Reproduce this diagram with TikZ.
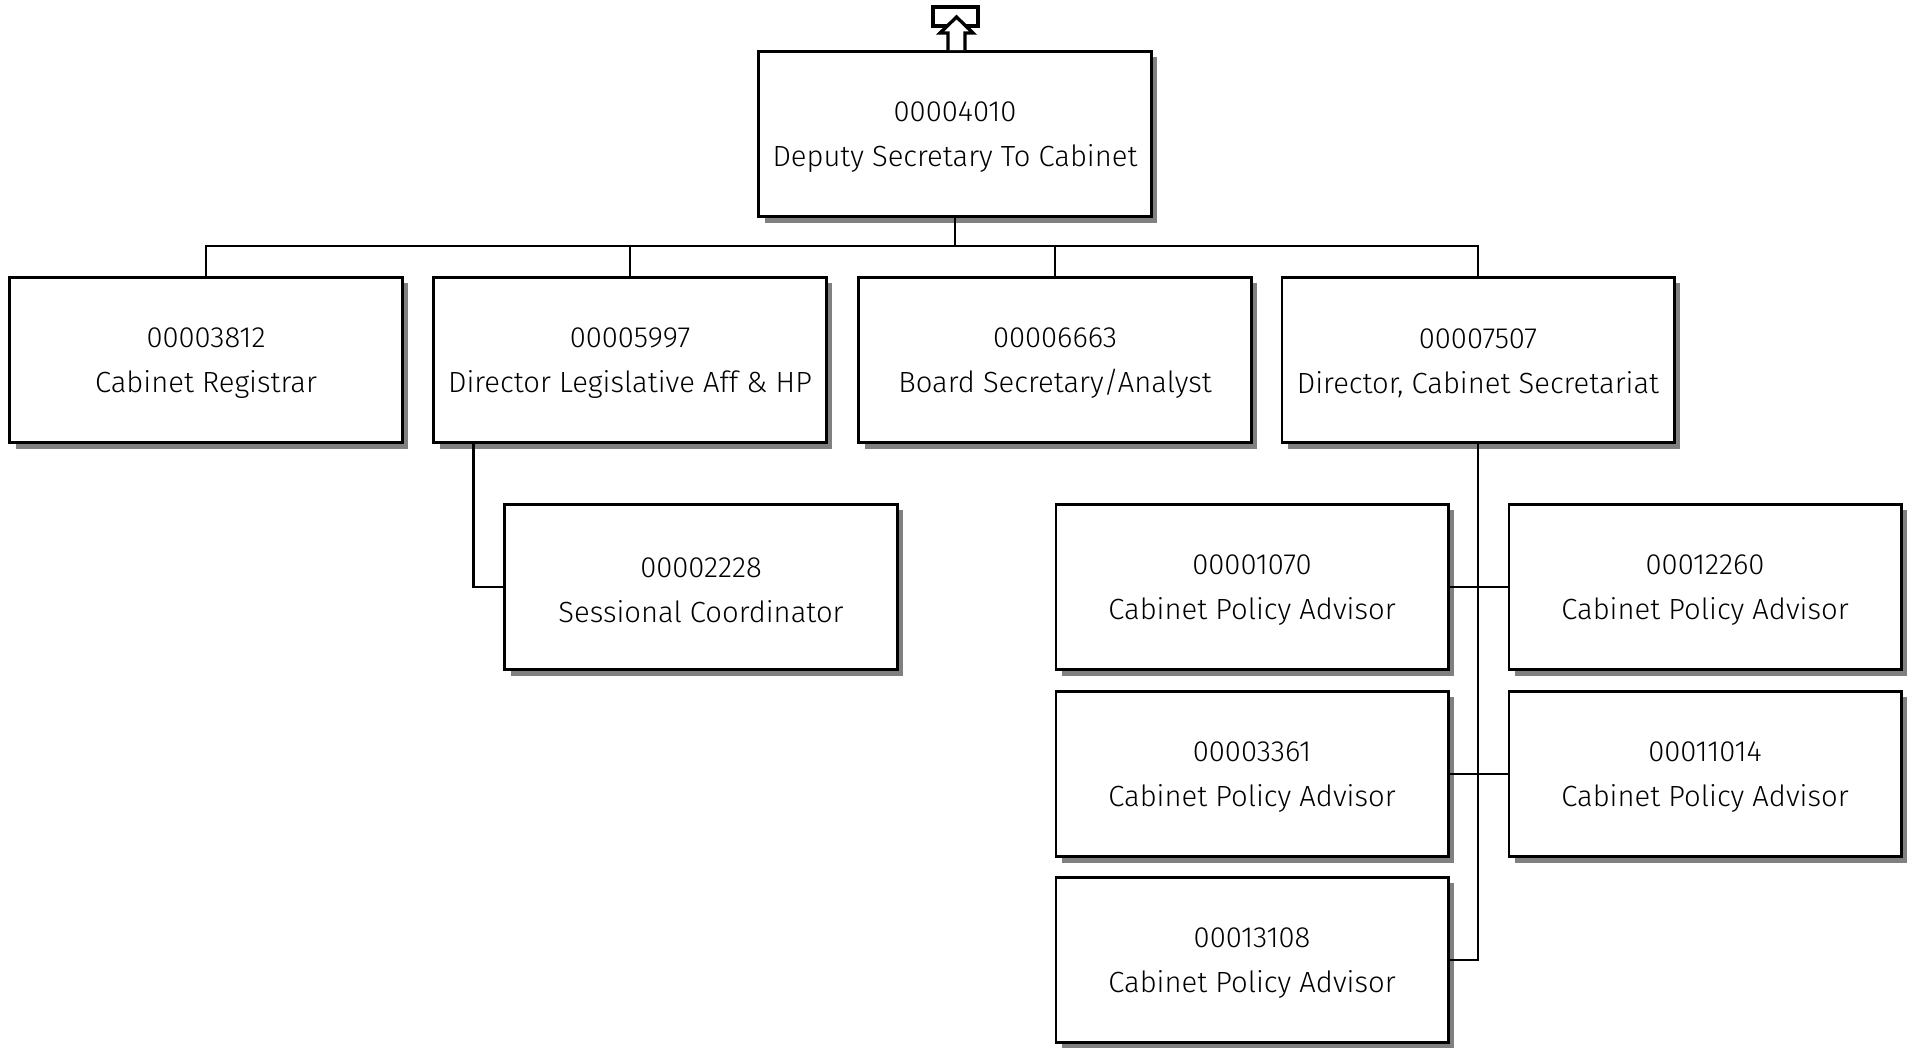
\documentclass[tikz,border=0pt]{standalone}
\usepackage{fontspec}
\setmainfont{Fira Sans}[UprightFont={* Light}]
\usepackage{tikz}
\usetikzlibrary{shadows}
\newcommand{\postlbl}[2]{\rule{0pt}{7.5pt}#1\\#2}
\tikzset{post/.style={draw, fill=white, line width=0.8pt, minimum width=3.92cm, minimum height=1.65cm,
		align=center, font=\fontsize{8.3}{12.9}\selectfont,
		drop shadow={shadow xshift=0.06cm, shadow yshift=-0.06cm, fill=black!50, opacity=1}},
	link/.style={line width=0.6pt}}

\begin{document}
\begin{tikzpicture}[x=0.01cm, y=-0.01cm]
	\useasboundingbox (0,0) rectangle (1913,1047);
	\node[post] (top) at (955,134) {\postlbl{00004010}{Deputy Secretary To Cabinet}};
	\node[post] (reg) at (206,360) {\postlbl{00003812}{Cabinet Registrar}};
	\node[post] (leg) at (630,360) {\postlbl{00005997}{Director Legislative Aff \& HP}};
	\node[post] (brd) at (1055,360) {\postlbl{00006663}{Board Secretary/Analyst}};
	\node[post] (dir) at (1478,360) {\postlbl{00007507}{Director, Cabinet Secretariat}};
	\node[post] (ses) at (701,587) {\postlbl{00002228}{Sessional Coordinator}};
	\node[post] (pa1) at (1252,587) {\postlbl{00001070}{Cabinet Policy Advisor}};
	\node[post] (pb1) at (1705,587) {\postlbl{00012260}{Cabinet Policy Advisor}};
	\node[post] (pa2) at (1252,774) {\postlbl{00003361}{Cabinet Policy Advisor}};
	\node[post] (pb2) at (1705,774) {\postlbl{00011014}{Cabinet Policy Advisor}};
	\node[post] (pa3) at (1252,960) {\postlbl{00013108}{Cabinet Policy Advisor}};
	\coordinate (bus) at (955,246);
	\foreach \n in {reg,leg,brd,dir}
		\draw[link] (top.south) -- (top.south |- bus) -| (\n.north);
	\draw[link] ([xshift=0.41cm]leg.south west) |- (ses.west);
	\draw[link] (dir.south) |- (pa3.east);
	\draw[link] (pa1.east) -- (pb1.west);
	\draw[link] (pa2.east) -- (pb2.west);
	\draw[line width=0.95pt, fill=white] (933,7) rectangle (978,26);
	\draw[line width=0.95pt, fill=white, line join=miter] (948,50) -- (948,33) -- (940,33) -- (956.5,17)
		-- (973,33) -- (965,33) -- (965,50);
\end{tikzpicture}
\end{document}
